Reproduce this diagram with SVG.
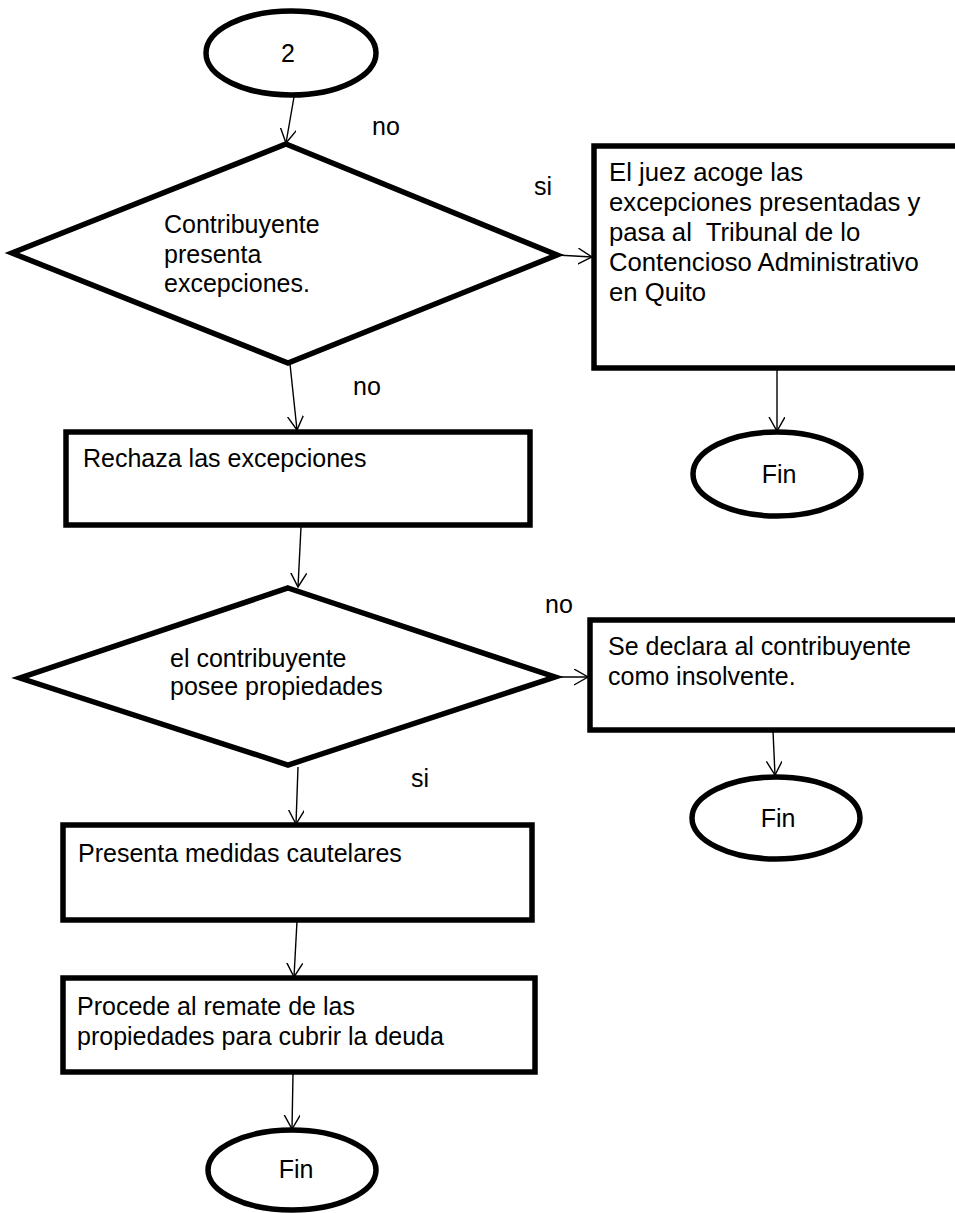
<svg xmlns="http://www.w3.org/2000/svg" width="955" height="1213" viewBox="0 0 955 1213">
  <defs>
    <style>
      .shape { fill: #ffffff; stroke: #000000; stroke-width: 5.5; stroke-linejoin: miter; }
      .link { fill: none; stroke: #000000; stroke-width: 1.4; }
      .txt { font-family: "Liberation Sans", Arial, sans-serif; font-size: 25px; fill: #000000; }
      .wide { font-size: 25.7px; }
      .mid { text-anchor: middle; }
    </style>
    <marker id="arrow" markerUnits="userSpaceOnUse" markerWidth="18" markerHeight="20" refX="14" refY="8" orient="auto">
      <path d="M0,0 L14,8 L0,16" fill="none" stroke="#000000" stroke-width="1.4"/>
    </marker>
  </defs>
  <rect width="955" height="1213" fill="#ffffff"/>

  <!-- connectors -->
  <g id="connectors">
    <line class="link" x1="294" y1="97" x2="286" y2="143" marker-end="url(#arrow)"/>
    <line class="link" x1="557" y1="255" x2="592" y2="257" marker-end="url(#arrow)"/>
    <line class="link" x1="290" y1="364" x2="297" y2="430" marker-end="url(#arrow)"/>
    <line class="link" x1="777" y1="370" x2="777" y2="431" marker-end="url(#arrow)"/>
    <line class="link" x1="301" y1="527" x2="298" y2="587" marker-end="url(#arrow)"/>
    <line class="link" x1="555" y1="677" x2="588" y2="677" marker-end="url(#arrow)"/>
    <line class="link" x1="773" y1="731" x2="775" y2="775" marker-end="url(#arrow)"/>
    <line class="link" x1="298" y1="767" x2="296" y2="824" marker-end="url(#arrow)"/>
    <line class="link" x1="297" y1="921" x2="294" y2="977" marker-end="url(#arrow)"/>
    <line class="link" x1="293" y1="1074" x2="292" y2="1129" marker-end="url(#arrow)"/>
  </g>

  <!-- branch labels -->
  <g id="labels">
    <text class="txt" x="372" y="135">no</text>
    <text class="txt" x="534" y="195">si</text>
    <text class="txt" x="353" y="395">no</text>
    <text class="txt" x="545" y="613">no</text>
    <text class="txt" x="411" y="787">si</text>
  </g>

  <g id="start">
    <ellipse class="shape" cx="291" cy="53" rx="85" ry="42"/>
    <text class="txt mid" x="288" y="62">2</text>
  </g>

  <g id="decision-excepciones">
    <polygon class="shape" points="286,144 557,255 288,363 12,253"/>
    <text class="txt" x="164" y="233">Contribuyente</text>
    <text class="txt" x="164" y="263">presenta</text>
    <text class="txt" x="164" y="292">excepciones.</text>
  </g>

  <g id="acoge">
    <rect class="shape" x="594" y="146" width="380" height="222"/>
    <text class="txt wide" x="609" y="181">El juez acoge las</text>
    <text class="txt wide" x="609" y="211">excepciones presentadas y</text>
    <text class="txt wide" x="609" y="241">pasa al&#160; Tribunal de lo</text>
    <text class="txt wide" x="609" y="271">Contencioso Administrativo</text>
    <text class="txt wide" x="609" y="301">en Quito</text>
  </g>

  <g id="fin-1">
    <ellipse class="shape" cx="777" cy="474" rx="84" ry="42"/>
    <text class="txt mid" x="779" y="483">Fin</text>
  </g>

  <g id="rechaza">
    <rect class="shape" x="66" y="432" width="464" height="93"/>
    <text class="txt" x="83" y="467">Rechaza las excepciones</text>
  </g>

  <g id="decision-propiedades">
    <polygon class="shape" points="288,588 555,677 288,765 20,678"/>
    <text class="txt" x="170" y="667">el contribuyente</text>
    <text class="txt" x="170" y="695">posee propiedades</text>
  </g>

  <g id="insolvente">
    <rect class="shape" x="590" y="620" width="384" height="110"/>
    <text class="txt" x="608" y="655">Se declara al contribuyente</text>
    <text class="txt" x="608" y="685">como insolvente.</text>
  </g>

  <g id="fin-2">
    <ellipse class="shape" cx="776" cy="818" rx="84" ry="41"/>
    <text class="txt mid" x="778" y="827">Fin</text>
  </g>

  <g id="medidas">
    <rect class="shape" x="63" y="825" width="469" height="95"/>
    <text class="txt" x="78" y="862">Presenta medidas cautelares</text>
  </g>

  <g id="remate">
    <rect class="shape" x="63" y="978" width="472" height="94"/>
    <text class="txt" x="77" y="1015">Procede al remate de las</text>
    <text class="txt" x="77" y="1045">propiedades para cubrir la deuda</text>
  </g>

  <g id="fin-3">
    <ellipse class="shape" cx="292" cy="1170" rx="84" ry="40"/>
    <text class="txt mid" x="296" y="1178">Fin</text>
  </g>
</svg>
